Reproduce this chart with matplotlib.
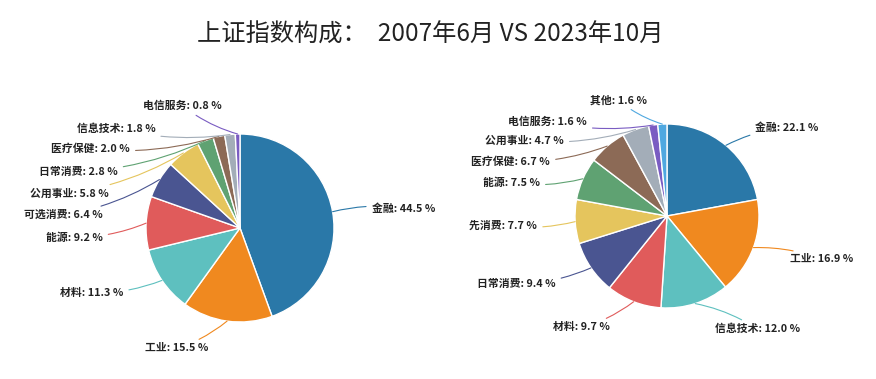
import numpy as np
import matplotlib
matplotlib.use("Agg")
import matplotlib.pyplot as plt

plt.rcParams['font.family'] = ['Noto Sans CJK SC', 'DejaVu Sans']

# 2007年6月
left_names = ['金融', '工业', '材料', '能源', '可选消费', '公用事业',
              '日常消费', '医疗保健', '信息技术', '电信服务']
left_vals = [44.5, 15.5, 11.3, 9.2, 6.4, 5.8, 2.8, 2.0, 1.8, 0.8]

# 2023年10月
right_names = ['金融', '工业', '信息技术', '材料', '日常消费', '先消费',
               '能源', '医疗保健', '公用事业', '电信服务', '其他']
right_vals = [22.1, 16.9, 12.0, 9.7, 9.4, 7.7, 7.5, 6.7, 4.7, 1.6, 1.6]

colors = ['#2a78a8', '#f0891f', '#5ec0bf', '#e05b5b', '#4a5591', '#e5c55d',
          '#5fa272', '#8c6a56', '#a3adb8', '#7a5cc2', '#4fa8e0']

# label text positions (axes data units, pie radius = 1)
left_pos = [(1.40, 0.21), (-0.34, -1.28), (-1.24, -0.69), (-1.46, -0.10),
            (-1.46, 0.14), (-1.40, 0.37), (-1.30, 0.60), (-1.17, 0.84),
            (-0.90, 1.06), (-0.19, 1.30)]
right_pos = [(0.96, 0.96), (1.34, -0.47), (0.52, -1.23), (-0.62, -1.21),
             (-1.21, -0.74), (-1.41, -0.10), (-1.38, 0.36), (-1.27, 0.59),
             (-1.12, 0.82), (-0.87, 1.03), (-0.22, 1.26)]

W, H = 876, 379
fig = plt.figure(figsize=(W / 100, H / 100), dpi=100)


def make_axes(cx, cy, r, L=2.6, M=1.7):
    # cx, cy in pixels from top-left; r = pie radius in pixels
    w = 2 * L * r / W
    h = 2 * M * r / H
    ax = fig.add_axes([(cx - L * r) / W, (H - cy - M * r) / H, w, h])
    ax.axis('off')
    return ax


def draw_pie(ax, names, vals, pos):
    wedges, _ = ax.pie(vals, colors=colors[:len(vals)], startangle=90,
                       counterclock=False, radius=1.0,
                       wedgeprops=dict(edgecolor='white', linewidth=1))
    for w, name, v, (tx, ty) in zip(wedges, names, vals, pos):
        ang = np.deg2rad((w.theta1 + w.theta2) / 2)
        ex, ey = np.cos(ang), np.sin(ang)
        ha = 'left' if tx > 0 else 'right'
        ax.annotate(f'{name}: {v:.1f} %', xy=(ex, ey), xytext=(tx, ty),
                    ha=ha, va='center', fontsize=7.8, fontweight='bold',
                    color='#222222',
                    arrowprops=dict(arrowstyle='-', color=w.get_facecolor(),
                                    lw=0.8, shrinkA=2, shrinkB=0,
                                    connectionstyle='arc3,rad=0.1'))
    ax.set_xlim(-2.6, 2.6)
    ax.set_ylim(-1.7, 1.7)


ax1 = make_axes(240, 228, 94)
draw_pie(ax1, left_names, left_vals, left_pos)

ax2 = make_axes(667, 216, 92)
draw_pie(ax2, right_names, right_vals, right_pos)

fig.text(430 / W, 1 - 35 / H, '上证指数构成：  2007年6月 VS 2023年10月',
         ha='center', va='center', fontsize=17.5, color='#222222')

fig.savefig('out.png', dpi=100, facecolor='white')
